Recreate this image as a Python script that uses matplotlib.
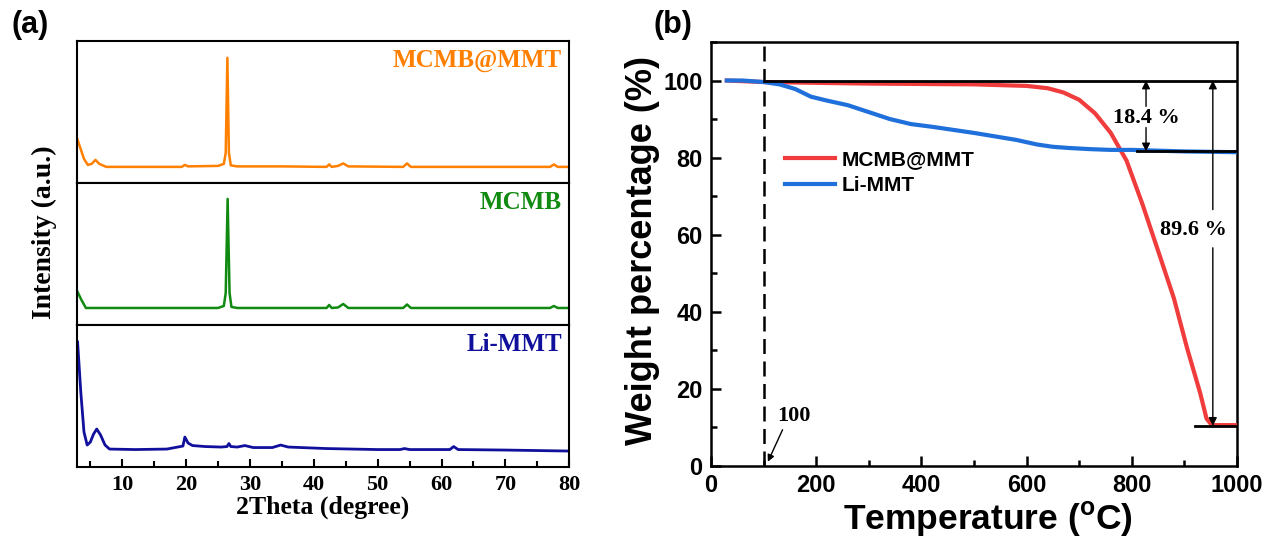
import numpy as np
import matplotlib
matplotlib.use('Agg')
import matplotlib.pyplot as plt
from matplotlib.ticker import MultipleLocator

# ---- XRD data (2theta, intensity in arbitrary units) ----
tt_mcmb_mmt = [3.0, 4.0, 4.6, 5.2, 5.8, 6.4, 7.5, 15, 19.3, 19.8, 20.3, 25.0, 25.9, 26.2, 26.46, 26.7, 27.0,
               28, 35, 42.0, 42.4, 42.8, 43.8, 44.6, 45.4, 54.0, 54.6, 55.2, 77.0, 77.6, 78.2, 80]
int_mcmb_mmt = [43, 24, 18, 19, 23, 19, 16, 16, 16, 18, 16.5, 17, 19, 30, 125, 30, 17.5,
                16.5, 16.5, 16, 18.5, 16, 17, 19.5, 16.5, 16, 19.5, 16, 16, 18.5, 16, 16]

tt_mcmb = [3.0, 3.6, 4.3, 15, 25.0, 25.9, 26.2, 26.5, 26.8, 27.1, 28, 42.0, 42.4, 42.8, 43.8, 44.6, 45.4,
           54.0, 54.6, 55.2, 77.0, 77.6, 78.2, 80]
int_mcmb = [33, 25, 17, 17, 17, 19, 32, 126, 32, 18, 17, 17, 20, 17, 17.5, 21, 17,
            17, 20.5, 17, 17, 19, 17, 17]

tt_limmt = [3.0, 3.5, 4.0, 4.5, 5.0, 5.5, 6.0, 6.6, 7.3, 8.0, 12, 17, 19.5, 19.8, 20.3, 21, 23, 25.5, 26.4,
            26.7, 27.0, 28, 29.2, 30.5, 33.5, 34.8, 36, 38, 42, 50, 53.5, 54.2, 55, 61.3, 61.9, 62.6, 70, 80]
int_limmt = [125, 75, 35, 22, 25, 33, 38, 32, 22, 18, 17.5, 18, 21, 30, 24, 21.5, 20.5, 20, 20.5,
             23.5, 20.5, 20, 21.5, 19.5, 19.5, 22, 20, 19.5, 18.5, 17.5, 17.5, 18.5, 17.5, 17.5, 20.5, 17.5, 17, 16]

xrd_names = ['MCMB@MMT', 'MCMB', 'Li-MMT']
xrd_colors = ['#ff8000', '#118a11', '#10109c']

# ---- TGA data ----
temp_mcmb_mmt = [30, 100, 200, 300, 400, 500, 600, 640, 670, 700, 730, 760, 790, 820, 850, 880, 905,
                 930, 942, 952, 1000]
wt_mcmb_mmt = [100, 99.6, 99.4, 99.2, 99.1, 99.0, 98.6, 98.0, 96.9, 95.0, 91.5, 86.4, 79.2, 68.0, 55.8,
               43.5, 30.6, 18.9, 12.3, 10.6, 10.6]

temp_limmt = [30, 60, 100, 130, 160, 190, 220, 260, 300, 340, 380, 420, 460, 500, 540, 580, 620, 650, 680,
              720, 760, 800, 850, 900, 950, 1000]
wt_limmt = [100, 100, 99.6, 99.0, 97.8, 95.8, 94.8, 93.6, 91.8, 90.0, 88.7, 88.0, 87.2, 86.4, 85.5, 84.6,
            83.4, 82.8, 82.5, 82.2, 82.0, 82.0, 81.8, 81.6, 81.5, 81.4]

loss_limmt = 18.4
loss_mcmb_mmt = 89.6

serif = ['Liberation Serif', 'DejaVu Serif']
sans = ['Liberation Sans', 'DejaVu Sans']
plt.rcParams['mathtext.fontset'] = 'custom'
plt.rcParams['mathtext.rm'] = 'Liberation Sans:bold'

fig = plt.figure(figsize=(12.72, 5.45), dpi=100)

# ---------------- panel (a) ----------------
left_a, width_a = 0.0605, 0.387
bottom_a, h_a = 0.143, 0.2607
xrd_sets = [(tt_mcmb_mmt, int_mcmb_mmt), (tt_mcmb, int_mcmb), (tt_limmt, int_limmt)]
for i, ((tt, it), name, col) in enumerate(zip(xrd_sets, xrd_names, xrd_colors)):
    ax = fig.add_axes([left_a, bottom_a + (2 - i) * h_a, width_a, h_a])
    ax.plot(tt, it, color=col, lw=2.0 if i == 2 else 1.8)
    ax.set_xlim(2.9, 80)
    ax.set_ylim(0, 142)
    ax.set_yticks([])
    for s in ax.spines.values():
        s.set_linewidth(1.5)
    ax.text(0.985, 0.86, name, transform=ax.transAxes, ha='right', va='center', color=col,
            fontsize=18, fontweight='bold', family=serif)
    if i < 2:
        ax.set_xticks([])
    else:
        ax.xaxis.set_major_locator(MultipleLocator(10))
        ax.xaxis.set_minor_locator(MultipleLocator(5))
        ax.tick_params(axis='x', which='both', direction='in', width=1.5)
        ax.tick_params(axis='x', which='major', length=6, pad=6)
        ax.tick_params(axis='x', which='minor', length=4)
        for lab in ax.get_xticklabels():
            lab.set_fontfamily(serif)
            lab.set_fontweight('bold')
            lab.set_fontsize(16)
        ax.set_xlabel('2Theta (degree)', fontsize=18.5, fontweight='bold', family=serif, labelpad=0)

fig.text(0.035, 0.574, 'Intensity (a.u.)', rotation=90, ha='center', va='center',
         fontsize=20, fontweight='bold', family=serif)
fig.text(0.024, 0.955, '(a)', ha='center', va='center', fontsize=22, fontweight='bold', family=sans)

# ---------------- panel (b) ----------------
axb = fig.add_axes([0.559, 0.145, 0.4135, 0.778])
axb.plot(temp_mcmb_mmt, wt_mcmb_mmt, color='#f03c3c', lw=3, label='MCMB@MMT', zorder=3)
axb.plot(temp_limmt, wt_limmt, color='#2070dc', lw=3, label='Li-MMT', zorder=3)
axb.set_xlim(0, 1000)
axb.set_ylim(0, 110)
axb.xaxis.set_major_locator(MultipleLocator(200))
axb.xaxis.set_minor_locator(MultipleLocator(100))
axb.yaxis.set_minor_locator(MultipleLocator(10))
axb.set_yticks([0, 20, 40, 60, 80, 100])
axb.tick_params(which='both', direction='in', width=1.8)
axb.tick_params(which='major', length=7, pad=6)
axb.tick_params(which='minor', length=4)
for s in axb.spines.values():
    s.set_linewidth(1.8)
for lab in axb.get_xticklabels() + axb.get_yticklabels():
    lab.set_fontfamily(sans)
    lab.set_fontweight('bold')
    lab.set_fontsize(17)

# reference lines
axb.axvline(100, color='k', lw=1.8, ls=(0, (6, 3)), zorder=2)
axb.plot([100, 1000], [100, 100], color='k', lw=2, zorder=4)
axb.plot([810, 1000], [100 - loss_limmt, 100 - loss_limmt], color='k', lw=2, zorder=4)
axb.plot([920, 1000], [100 - loss_mcmb_mmt, 100 - loss_mcmb_mmt], color='k', lw=2, zorder=4)

ap = dict(arrowstyle='-|>', color='k', lw=1, mutation_scale=12, shrinkA=0, shrinkB=0)
axb.annotate('', xy=(827, 100), xytext=(827, 93.3), arrowprops=ap)
axb.annotate('', xy=(827, 100 - loss_limmt), xytext=(827, 87.8), arrowprops=ap)
axb.text(828, 90.4, f'{loss_limmt} %', ha='center', va='center', fontsize=16, fontweight='bold', family=serif)
axb.annotate('', xy=(954, 100), xytext=(954, 66.5), arrowprops=ap)
axb.annotate('', xy=(954, 100 - loss_mcmb_mmt), xytext=(954, 56.6), arrowprops=ap)
axb.text(917, 61.2, f'{loss_mcmb_mmt} %', ha='center', va='center', fontsize=16, fontweight='bold', family=serif)
axb.text(126, 10.4, '100', ha='left', va='bottom', fontsize=16, fontweight='bold', family=serif)
axb.annotate('', xy=(108, 1.1), xytext=(136, 9.4),
             arrowprops=dict(arrowstyle='-|>', color='k', lw=1, mutation_scale=10, shrinkA=0, shrinkB=0))

leg = axb.legend(frameon=False, loc='center left', bbox_to_anchor=(0.141, 0.692), borderaxespad=0,
                 borderpad=0, handlelength=2.4, handletextpad=0.3, labelspacing=0.35,
                 prop={'family': sans, 'weight': 'bold', 'size': 15})

fig.text(0.505, 0.54, 'Weight percentage (%)', rotation=90, ha='center', va='center',
         fontsize=26, fontweight='bold', family=sans)
fig.text(0.777, 0.046, r'Temperature ($\mathrm{^{o}}$C)', ha='center', va='center',
         fontsize=25.5, fontweight='bold', family=sans)
fig.text(0.529, 0.955, '(b)', ha='center', va='center', fontsize=22, fontweight='bold', family=sans)

fig.savefig('out.png', dpi=100)
